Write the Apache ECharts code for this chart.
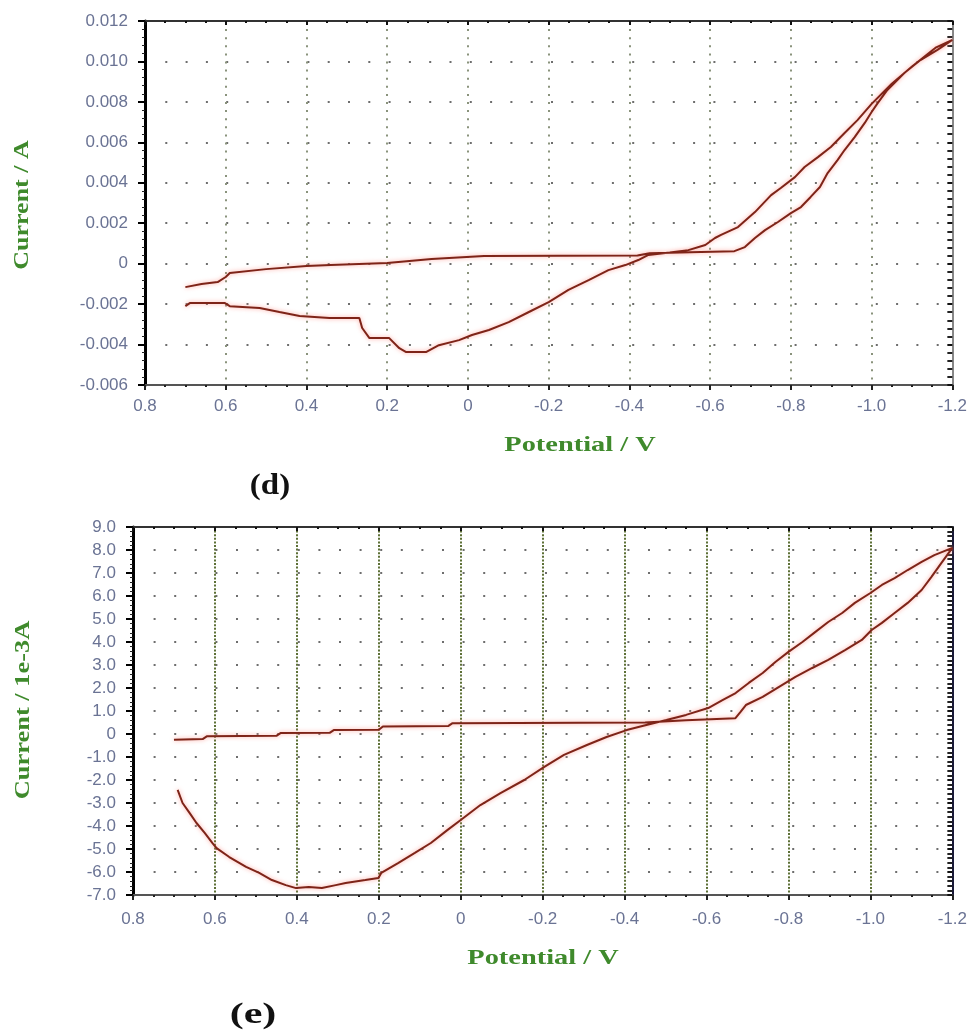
<!DOCTYPE html>
<html>
<head>
<meta charset="utf-8">
<title>CV curves</title>
<script src="https://cdn.jsdelivr.net/npm/echarts@6/dist/echarts.min.js"></script>
<style>
  html, body { margin: 0; padding: 0; background: #fff; }
  #main { width: 970px; height: 1030px; }
</style>
</head>
<body>
<div id="main"></div>
<script>
// (d) potential (V) and current (A), in sweep order
var dPotential = [0.70, 0.66, 0.62, 0.60, 0.59, 0.50, 0.40, 0.34, 0.20, 0.09, -0.04, -0.42, -0.45, -0.55, -0.66,
  -0.686, -0.711, -0.736, -0.768, -0.80, -0.825, -0.849, -0.872, -0.891, -0.916, -0.933, -0.958, -0.983, -1.0,
  -1.015, -1.039, -1.081, -1.121, -1.163, -1.2,
  -1.16, -1.10, -1.05, -1.0, -0.965, -0.933, -0.899, -0.867, -0.834, -0.81, -0.775, -0.751, -0.711, -0.669,
  -0.627, -0.612, -0.588, -0.546, -0.50, -0.447, -0.422, -0.39, -0.348, -0.299, -0.249, -0.2, -0.151, -0.101,
  -0.052, -0.01, 0.022, 0.072, 0.104, 0.153, 0.17, 0.195, 0.244, 0.262, 0.269, 0.343, 0.417, 0.467, 0.516,
  0.59, 0.602, 0.689, 0.70];
var dCurrent = [-0.00116, -0.00101, -0.00091, -0.00066, -0.00046, -0.00027, -0.00012, -0.00007, 0.00003, 0.00023,
  0.00038, 0.00040, 0.00052, 0.00057, 0.00062,
  0.00082, 0.00127, 0.00166, 0.00206, 0.0025, 0.0028, 0.0033, 0.00379, 0.00448, 0.00513, 0.00562, 0.00626,
  0.00696, 0.0075, 0.00794, 0.00859, 0.00943, 0.01007, 0.01057, 0.01106,
  0.0107, 0.00975, 0.0089, 0.0079, 0.0071, 0.00646, 0.00577, 0.00527, 0.00478, 0.00428, 0.00374, 0.00339,
  0.00255, 0.00181, 0.00142, 0.00127, 0.00092, 0.00067, 0.00055, 0.00043, 0.00018, -0.00007, -0.00032,
  -0.00081, -0.0013, -0.0019, -0.00239, -0.00289, -0.00328, -0.00353, -0.00378, -0.00403, -0.00437,
  -0.00437, -0.00418, -0.00368, -0.00368, -0.00318, -0.00269, -0.00269, -0.00259, -0.00239, -0.00219,
  -0.0021, -0.00195, -0.00195, -0.0021];

// (e) potential (V) and current (1e-3 A)
var ePotential = [0.70, 0.63, 0.62, 0.45, 0.44, 0.32, 0.31, 0.20, 0.19, 0.03, 0.02, -0.45, -0.55, -0.67,
  -0.683, -0.696, -0.737, -0.776, -0.817, -0.858, -0.897, -0.938, -0.979, -1.003, -1.028, -1.059, -1.091,
  -1.125, -1.149, -1.173, -1.2,
  -1.156, -1.125, -1.091, -1.059, -1.028, -1.0, -0.962, -0.931, -0.897, -0.865, -0.834, -0.8, -0.768, -0.737,
  -0.703, -0.671, -0.64, -0.604, -0.55, -0.502, -0.453, -0.405, -0.356, -0.308, -0.252, -0.204, -0.155,
  -0.097, -0.048, 0.0, 0.032, 0.073, 0.112, 0.153, 0.194, 0.201, 0.233, 0.281, 0.305, 0.339, 0.371, 0.402,
  0.427, 0.461, 0.492, 0.524, 0.565, 0.596, 0.606, 0.625, 0.645, 0.662, 0.679, 0.691];
var eCurrent = [-0.25, -0.22, -0.10, -0.08, 0.04, 0.05, 0.17, 0.18, 0.33, 0.35, 0.47, 0.50, 0.60, 0.68,
  0.96, 1.26, 1.61, 2.04, 2.48, 2.87, 3.22, 3.65, 4.09, 4.52, 4.83, 5.26, 5.70, 6.26, 6.83, 7.43, 8.09,
  7.78, 7.48, 7.13, 6.78, 6.48, 6.13, 5.70, 5.26, 4.87, 4.43, 4.0, 3.57, 3.13, 2.65, 2.22, 1.78, 1.48, 1.13,
  0.83, 0.61, 0.39, 0.17, -0.13, -0.48, -0.91, -1.43, -2.0, -2.57, -3.09, -3.74, -4.17, -4.74, -5.17, -5.61,
  -6.04, -6.26, -6.35, -6.48, -6.57, -6.70, -6.65, -6.70, -6.57, -6.35, -6.04, -5.78, -5.35, -4.96, -4.74,
  -4.30, -3.87, -3.43, -3.0, -2.43];

var xTicksMin = -1.2, xTicksMax = 0.8;
var dRange = [-0.006, 0.012];
var eRange = [-7, 9];

function pairs(xs, ys) {
  return xs.map(function (x, i) { return [x, ys[i]]; });
}

var labelFont = { color: '#6a7394', fontSize: 17, fontFamily: 'Liberation Sans' };
var titleFont = { fill: '#3f8a2c', fontSize: 22, fontWeight: 'bold', fontFamily: 'Liberation Serif' };
var tagFont = { fill: '#111', fontSize: 30, fontWeight: 'bold', fontFamily: 'Liberation Serif' };

function fmtX(v) { return Math.abs(v) < 1e-9 ? '0' : v.toFixed(1); }

function bottomX(gridIndex) {
  return {
    type: 'value', gridIndex: gridIndex, position: 'bottom', inverse: true,
    min: xTicksMin, max: xTicksMax, interval: 0.2,
    axisLine: { show: true, onZero: false, lineStyle: { color: '#555', width: 2 } },
    axisTick: { show: true, inside: false, length: 5, lineStyle: { color: '#222', width: 2 } },
    minorTick: { show: true, splitNumber: 4, length: 2, lineStyle: { color: '#222', width: 2 } },
    axisLabel: Object.assign({ margin: gridIndex === 0 ? 13 : 16, formatter: fmtX }, labelFont),
    splitLine: gridIndex === 0
      ? { show: true, lineStyle: { color: '#8a937c', width: 2, type: [2, 6.1] } }
      : { show: true, lineStyle: { color: '#5d7036', width: 2, type: [2, 1.6] } }
  };
}
function topX(gridIndex) {
  return {
    type: 'value', gridIndex: gridIndex, position: 'top', inverse: true,
    min: xTicksMin, max: xTicksMax, interval: 0.2,
    axisLine: { show: true, onZero: false, lineStyle: { color: '#333', width: 2 } },
    axisTick: { show: true, inside: true, length: 4, lineStyle: { color: '#111', width: 2 } },
    minorTick: { show: true, splitNumber: 4, length: 2, lineStyle: { color: '#111', width: 2 } },
    axisLabel: { show: false }, splitLine: { show: false }
  };
}
function leftY(gridIndex, range, interval, fmt, hdash) {
  return {
    type: 'value', gridIndex: gridIndex, position: 'left',
    min: range[0], max: range[1], interval: interval,
    axisLine: { show: true, onZero: false, lineStyle: { color: '#000', width: 3 } },
    axisTick: { show: true, inside: false, length: 7, lineStyle: { color: '#000', width: 2 } },
    minorTick: { show: true, splitNumber: 5, length: 3, lineStyle: { color: '#222', width: 1 } },
    axisLabel: Object.assign({ margin: 17, formatter: fmt }, labelFont),
    splitLine: { show: true, lineStyle: { color: '#6e6e6e', width: 2, type: hdash } }
  };
}
function rightY(gridIndex, range, interval, color) {
  return {
    type: 'value', gridIndex: gridIndex, position: 'right',
    min: range[0], max: range[1], interval: interval,
    axisLine: { show: true, onZero: false, lineStyle: { color: color, width: 2 } },
    axisTick: { show: true, inside: true, length: 5, lineStyle: { color: '#111', width: 2 } },
    minorTick: { show: true, splitNumber: 5, length: 5, lineStyle: { color: '#222', width: 2 } },
    axisLabel: { show: false }, splitLine: { show: false }
  };
}

var lineStyle = {
  color: '#7e2418', width: 2,
  shadowColor: 'rgba(255, 140, 130, 0.8)', shadowBlur: 4
};

var chart = echarts.init(document.getElementById('main'), null, { renderer: 'canvas' });
chart.setOption({
  backgroundColor: '#fff',
  animation: false,
  grid: [
    { left: 145, top: 21, width: 812, height: 364 },
    { left: 133, top: 527, width: 825, height: 368 }
  ],
  xAxis: [bottomX(0), topX(0), bottomX(1), topX(1)],
  yAxis: [
    leftY(0, dRange, 0.002, function (v) { return Math.abs(v) < 1e-9 ? '0' : v.toFixed(3); }, [2, 18.3]),
    rightY(0, dRange, 0.002, '#888'),
    leftY(1, eRange, 1, function (v) { return Math.abs(v) < 1e-9 ? '0' : v.toFixed(1); }, [2, 18.6]),
    rightY(1, eRange, 1, '#1a1a3a')
  ],
  series: [
    {
      type: 'line', xAxisIndex: 0, yAxisIndex: 0, showSymbol: false, symbol: 'none',
      lineStyle: lineStyle, data: pairs(dPotential, dCurrent)
    },
    {
      type: 'line', xAxisIndex: 2, yAxisIndex: 2, showSymbol: false, symbol: 'none',
      lineStyle: lineStyle, data: pairs(ePotential, eCurrent)
    }
  ],
  graphic: [
    { type: 'text', x: 22, y: 205, rotation: Math.PI / 2, scaleX: 1.18,
      style: Object.assign({ text: 'Current / A', align: 'center', verticalAlign: 'middle' }, titleFont) },
    { type: 'text', x: 580, y: 445, scaleX: 1.29,
      style: Object.assign({ text: 'Potential / V', align: 'center', verticalAlign: 'middle' }, titleFont) },
    { type: 'text', x: 270, y: 486, scaleX: 1.1,
      style: Object.assign({ text: '(d)', align: 'center', verticalAlign: 'middle' }, tagFont) },
    { type: 'text', x: 23, y: 710, rotation: Math.PI / 2, scaleX: 1.2,
      style: Object.assign({ text: 'Current / 1e-3A', align: 'center', verticalAlign: 'middle' }, titleFont) },
    { type: 'text', x: 543, y: 958, scaleX: 1.29,
      style: Object.assign({ text: 'Potential / V', align: 'center', verticalAlign: 'middle' }, titleFont) },
    { type: 'text', x: 253, y: 1015, scaleX: 1.4,
      style: Object.assign({ text: '(e)', align: 'center', verticalAlign: 'middle' }, tagFont) }
  ]
});
</script>
</body>
</html>
